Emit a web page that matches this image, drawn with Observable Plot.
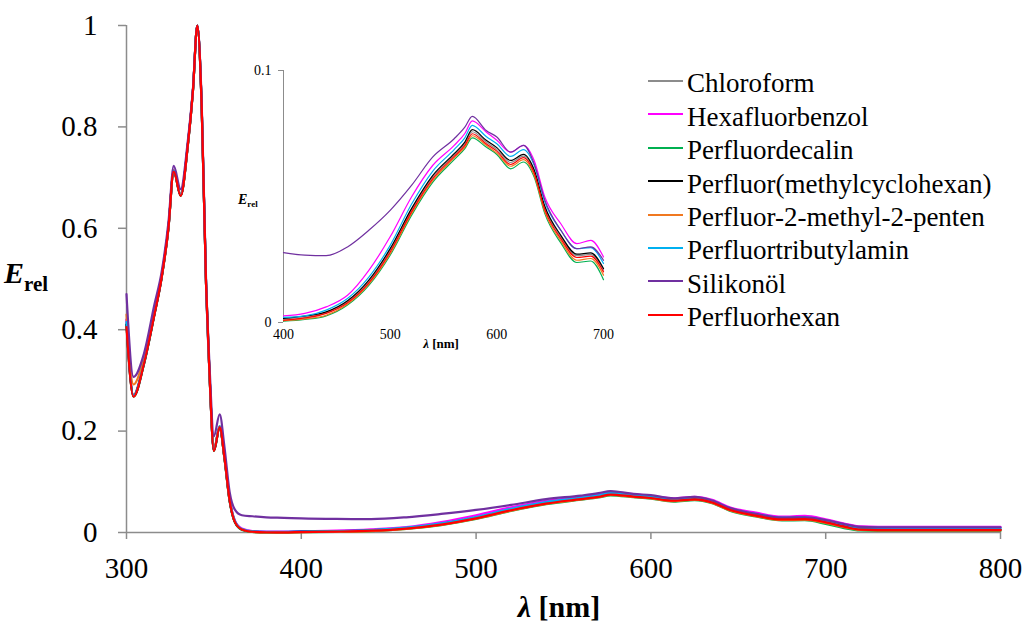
<!DOCTYPE html>
<html>
<head>
<meta charset="utf-8">
<script src="https://cdn.jsdelivr.net/npm/d3@7"></script>
<script src="https://cdn.jsdelivr.net/npm/@observablehq/plot@0.6"></script>
<style>
  body { margin: 0; background: #fff; }
  #wrap { position: relative; width: 1023px; height: 625px; color: #000; font-family: "Liberation Serif", "Times New Roman", serif; }
  #wrap > * { position: absolute; }
  .lbl { line-height: 1; white-space: nowrap; }
  .leg-line { height: 2px; width: 35px; }
  .leg-text { font-size: 27px; line-height: 1; white-space: nowrap; }
</style>
</head>
<body>
<div id="wrap"></div>
<script>
// ---- data ----
const wavelengths = [300, 304, 310, 316, 320, 324, 327, 331, 335, 338, 340.5, 343, 345.5, 347.5, 350, 353.3, 356, 359, 362, 366, 372, 380, 390,
  400, 420, 440, 460, 480, 500, 520, 540, 560, 570, 577, 590, 600, 613, 625, 635, 645, 660, 675, 688, 700, 710, 720, 740, 800];

const seriesNames = ["Chloroform", "Hexafluorbenzol", "Perfluordecalin", "Perfluor(methylcyclohexan)",
  "Perfluor-2-methyl-2-penten", "Perfluortributylamin", "Silikonöl", "Perfluorhexan"];
const seriesColors = ["#8c8c8c", "#ff00ff", "#00b050", "#000000", "#f07820", "#00b0f0", "#7030a0", "#ff0000"];

const chloroform = [0.42, 0.272, 0.336, 0.432, 0.502, 0.602, 0.713, 0.665, 0.762, 0.871, 1.0, 0.842, 0.49, 0.31, 0.161, 0.207, 0.147, 0.062, 0.021, 0.006, 0.0015, 0.0006, 0.0005,
  0.0012, 0.0018, 0.0039, 0.0082, 0.0162, 0.0287, 0.0446, 0.0578, 0.0665, 0.071, 0.0757, 0.0716, 0.0687, 0.0635, 0.066, 0.06, 0.0455, 0.034, 0.0265, 0.027, 0.0208, 0.0125, 0.0058, 0.005, 0.005];
const hexafluorbenzol = [0.42, 0.27, 0.335, 0.432, 0.502, 0.602, 0.714, 0.666, 0.762, 0.872, 1.0, 0.843, 0.492, 0.312, 0.163, 0.209, 0.15, 0.066, 0.024, 0.008, 0.003, 0.002, 0.002,
  0.0026, 0.0036, 0.0062, 0.0108, 0.0207, 0.034, 0.0498, 0.0624, 0.0703, 0.075, 0.080, 0.0756, 0.0723, 0.0676, 0.0703, 0.0643, 0.0498, 0.0392, 0.0313, 0.0326, 0.026, 0.018, 0.012, 0.011, 0.011];
const perfluordecalin = [0.41, 0.268, 0.332, 0.43, 0.50, 0.60, 0.712, 0.664, 0.76, 0.87, 1.0, 0.84, 0.49, 0.31, 0.161, 0.207, 0.147, 0.062, 0.02, 0.005, 0.001, 0.0, 0.0,
  0.0005, 0.0012, 0.0026, 0.0069, 0.0147, 0.0267, 0.0425, 0.0557, 0.0646, 0.069, 0.0733, 0.0696, 0.0667, 0.061, 0.0637, 0.0577, 0.0432, 0.0316, 0.0238, 0.0244, 0.017, 0.009, 0.004, 0.003, 0.003];
const perfluorMethylcyclohexan = [0.41, 0.269, 0.333, 0.431, 0.501, 0.601, 0.713, 0.665, 0.761, 0.871, 1.0, 0.841, 0.491, 0.311, 0.162, 0.208, 0.148, 0.063, 0.021, 0.006, 0.0015, 0.0008, 0.0008,
  0.0016, 0.0025, 0.0042, 0.0086, 0.0168, 0.0293, 0.0452, 0.0584, 0.067, 0.0716, 0.0765, 0.0723, 0.0694, 0.0643, 0.0667, 0.0606, 0.0461, 0.0346, 0.0271, 0.0276, 0.0214, 0.013, 0.007, 0.006, 0.006];
const perfluorMethylPenten = [0.43, 0.292, 0.345, 0.44, 0.505, 0.603, 0.715, 0.667, 0.763, 0.872, 1.0, 0.843, 0.492, 0.313, 0.165, 0.21, 0.15, 0.065, 0.022, 0.006, 0.0012, 0.0, 0.0,
  0.0007, 0.0014, 0.0029, 0.0073, 0.0152, 0.0273, 0.0432, 0.0564, 0.0653, 0.0696, 0.0741, 0.0703, 0.0672, 0.062, 0.0646, 0.0584, 0.0439, 0.0324, 0.0247, 0.0254, 0.0188, 0.011, 0.005, 0.004, 0.004];
const perfluortributylamin = [0.415, 0.27, 0.334, 0.432, 0.502, 0.602, 0.714, 0.666, 0.762, 0.872, 1.0, 0.842, 0.492, 0.313, 0.163, 0.21, 0.15, 0.065, 0.023, 0.007, 0.0025, 0.0015, 0.0015,
  0.002, 0.0026, 0.0049, 0.0095, 0.018, 0.0306, 0.0469, 0.0601, 0.0686, 0.0733, 0.0782, 0.0738, 0.0709, 0.0659, 0.0686, 0.0624, 0.0478, 0.0366, 0.0293, 0.0297, 0.0234, 0.016, 0.0095, 0.009, 0.009];
const silikonoel = [0.47, 0.307, 0.353, 0.45, 0.512, 0.612, 0.723, 0.677, 0.77, 0.875, 1.0, 0.85, 0.50, 0.33, 0.19, 0.233, 0.17, 0.08, 0.045, 0.034, 0.032, 0.030, 0.029,
  0.0277, 0.0267, 0.0265, 0.030, 0.0366, 0.0445, 0.0544, 0.0657, 0.0729, 0.0775, 0.0818, 0.0762, 0.0736, 0.0676, 0.0703, 0.063, 0.0485, 0.0366, 0.0293, 0.030, 0.0247, 0.017, 0.011, 0.010, 0.010];
const perfluorhexan = [0.405, 0.268, 0.333, 0.43, 0.50, 0.60, 0.712, 0.664, 0.76, 0.87, 1.0, 0.84, 0.49, 0.31, 0.161, 0.208, 0.148, 0.063, 0.021, 0.006, 0.0015, 0.0005, 0.0003,
  0.0009, 0.0018, 0.0036, 0.0078, 0.0157, 0.028, 0.0439, 0.0571, 0.0659, 0.0703, 0.0749, 0.0709, 0.068, 0.0627, 0.0654, 0.0593, 0.0448, 0.0333, 0.0258, 0.0263, 0.0201, 0.012, 0.0055, 0.0045, 0.0045];

const seriesValues = [chloroform, hexafluorbenzol, perfluordecalin, perfluorMethylcyclohexan,
  perfluorMethylPenten, perfluortributylamin, silikonoel, perfluorhexan];

const xTicks = [300, 400, 500, 600, 700, 800];
const yTicks = [0, 0.2, 0.4, 0.6, 0.8, 1];
const insetXTicks = [400, 500, 600, 700];
const insetYTicks = [0, 0.1];

const FONT = '"Liberation Serif", "Times New Roman", serif';

// ---- build table ----
const rows = [];
seriesNames.forEach((name, s) => {
  seriesValues[s].forEach((v, i) => {
    if (i < wavelengths.length) rows.push({series: name, wl: wavelengths[i], value: v});
  });
});
const insetRows = rows.filter(d => d.wl >= 400 && d.wl <= 700);

const AXIS = "#8c8c8c";
const color = {domain: seriesNames, range: seriesColors};
const wrap = document.getElementById("wrap");

// ---- main chart ----
const main = Plot.plot({
  width: 1023, height: 625,
  marginLeft: 126, marginRight: 23, marginTop: 25, marginBottom: 93,
  x: {domain: [300, 800]},
  y: {domain: [0, 1]},
  color,
  style: {fontFamily: FONT, fontSize: "29px", background: "transparent", color: "#000", overflow: "visible"},
  marks: [
    Plot.ruleX([300], {y1: 0, y2: 1, stroke: AXIS, strokeWidth: 1.5}),
    Plot.ruleY([0], {x1: 300, x2: 800, stroke: AXIS, strokeWidth: 1.5}),
    Plot.axisX({ticks: xTicks, tickSize: 7, text: null, stroke: AXIS, strokeWidth: 1.5, label: null}),
    Plot.axisX({ticks: xTicks, tickSize: 0, tickPadding: 25, label: null, tickFormat: d => String(d), fill: "#000"}),
    Plot.axisY({ticks: yTicks, tickSize: 8, text: null, stroke: AXIS, strokeWidth: 1.5, label: null}),
    Plot.axisY({ticks: yTicks, tickSize: 0, tickPadding: 29, label: null, tickFormat: d => String(d), fill: "#000"}),
    Plot.line(rows, {x: "wl", y: "value", z: "series", stroke: "series", strokeWidth: 2.2, curve: "monotone-x"})
  ]
});
main.style.left = "0px"; main.style.top = "0px";
wrap.appendChild(main);

// ---- inset chart ----
const inset = Plot.plot({
  width: 400, height: 320,
  marginLeft: 53, marginRight: 27, marginTop: 30, marginBottom: 38,
  x: {domain: [400, 700]},
  y: {domain: [0, 0.1]},
  color,
  style: {fontFamily: FONT, fontSize: "14px", background: "transparent", color: "#000", overflow: "visible"},
  marks: [
    Plot.ruleX([400], {y1: 0, y2: 0.1, stroke: AXIS, strokeWidth: 1}),
    Plot.axisY({ticks: insetYTicks, tickSize: 5, text: null, stroke: AXIS, label: null}),
    Plot.axisY({ticks: insetYTicks, tickSize: 0, tickPadding: 12, label: null, tickFormat: d => String(d), fill: "#000"}),
    Plot.axisX({ticks: insetXTicks, tickSize: 0, tickPadding: 7, label: null, tickFormat: d => String(d), fill: "#000"}),
    Plot.line(insetRows, {x: "wl", y: "value", z: "series", stroke: "series", strokeWidth: 1.2, curve: "monotone-x"})
  ]
});
inset.style.left = "230px"; inset.style.top = "40px";
wrap.appendChild(inset);

// ---- axis titles ----
function addLabel(html, left, top, size, extra) {
  const d = document.createElement("div");
  d.className = "lbl";
  d.innerHTML = html;
  d.style.left = left + "px";
  d.style.top = top + "px";
  d.style.fontSize = size + "px";
  d.style.fontFamily = FONT;
  if (extra) Object.assign(d.style, extra);
  wrap.appendChild(d);
  return d;
}
addLabel('<b><i>λ</i> [nm]</b>', 559, 592, 30, {transform: "translateX(-50%)"});
addLabel('<b><i>E</i><span style="font-size:21px;position:relative;top:8px">rel</span></b>', 4, 258, 30);
addLabel('<b><i>λ</i> [nm]</b>', 441, 337, 13, {transform: "translateX(-50%)"});
addLabel('<b><i>E</i><span style="font-size:9px;position:relative;top:3px">rel</span></b>', 238, 193, 14);

// ---- legend ----
seriesNames.forEach((name, i) => {
  const line = document.createElement("div");
  line.className = "leg-line";
  line.style.left = "648px";
  line.style.top = (80 + 33.4 * i) + "px";
  line.style.background = seriesColors[i];
  wrap.appendChild(line);
  const t = document.createElement("div");
  t.className = "leg-text";
  t.textContent = name;
  t.style.fontFamily = FONT;
  t.style.left = "687px";
  t.style.top = (70.4 + 33.4 * i) + "px";
  wrap.appendChild(t);
});
</script>
</body>
</html>
